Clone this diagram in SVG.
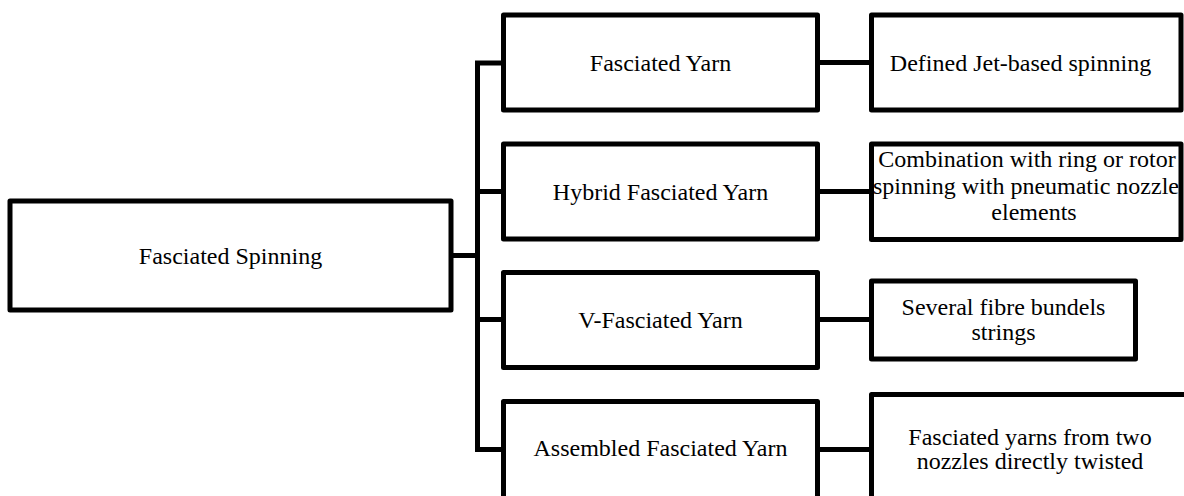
<svg xmlns="http://www.w3.org/2000/svg" width="1184" height="496" viewBox="0 0 1184 496">
<style>
.box{fill:#fff;stroke:#000;stroke-width:5;stroke-linejoin:round}
.con{fill:none;stroke:#000;stroke-width:5;stroke-linejoin:miter}
.t{font-family:'Liberation Serif',serif;font-size:24px;fill:#000;text-anchor:middle}
</style>
<rect width="1184" height="496" fill="#fff"/>
<g id="connectors">
<path class="con" d="M451,255.5 H477.5"/>
<path class="con" d="M503.5,63 H477.5 V449.5 H503.5"/>
<path class="con" d="M477.5,191.5 H503.5"/>
<path class="con" d="M477.5,319.5 H503.5"/>
<path class="con" d="M817.5,62.5 H871.5"/>
<path class="con" d="M817.5,191.5 H871.5"/>
<path class="con" d="M817.5,319.5 H871.5"/>
<path class="con" d="M817.5,449.5 H871.5"/>
</g>
<g id="root">
<rect class="box" x="10" y="201" width="441" height="109"/>
<text class="t" font-family="Liberation Serif, serif" x="230.5" y="263.5">Fasciated Spinning</text>
</g>
<g id="fasciated-yarn">
<rect class="box" x="503.5" y="15" width="314" height="95"/>
<text class="t" x="660.5" y="70.5">Fasciated Yarn</text>
</g>
<g id="hybrid-fasciated-yarn">
<rect class="box" x="503.5" y="144" width="314" height="95"/>
<text class="t" x="660.5" y="199.5">Hybrid Fasciated Yarn</text>
</g>
<g id="v-fasciated-yarn">
<rect class="box" x="503.5" y="272.5" width="314" height="95"/>
<text class="t" x="660.5" y="327.5">V-Fasciated Yarn</text>
</g>
<g id="assembled-fasciated-yarn">
<rect class="box" x="503.5" y="401.5" width="314" height="100"/>
<text class="t" x="660.5" y="456">Assembled Fasciated Yarn</text>
</g>
<g id="defined-jet">
<rect class="box" x="871.5" y="15" width="309.5" height="95"/>
<text class="t" x="1020.5" y="70.5">Defined Jet-based spinning</text>
</g>
<g id="combination">
<rect class="box" x="871.5" y="144" width="309.5" height="95.5"/>
<text class="t" x="1027" y="167">Combination with ring or rotor</text>
<text class="t" x="1026" y="193.5">spinning with pneumatic nozzle</text>
<text class="t" x="1034" y="220">elements</text>
</g>
<g id="several-fibre">
<rect class="box" x="871.5" y="281" width="264" height="78"/>
<text class="t" x="1003.5" y="315">Several fibre bundels</text>
<text class="t" x="1003.5" y="339.5">strings</text>
</g>
<g id="fasciated-yarns-two-nozzles">
<rect class="box" x="871.5" y="394.5" width="330" height="120"/>
<text class="t" x="1030" y="445">Fasciated yarns from two</text>
<text class="t" x="1030" y="468.5">nozzles directly twisted</text>
</g>
</svg>
